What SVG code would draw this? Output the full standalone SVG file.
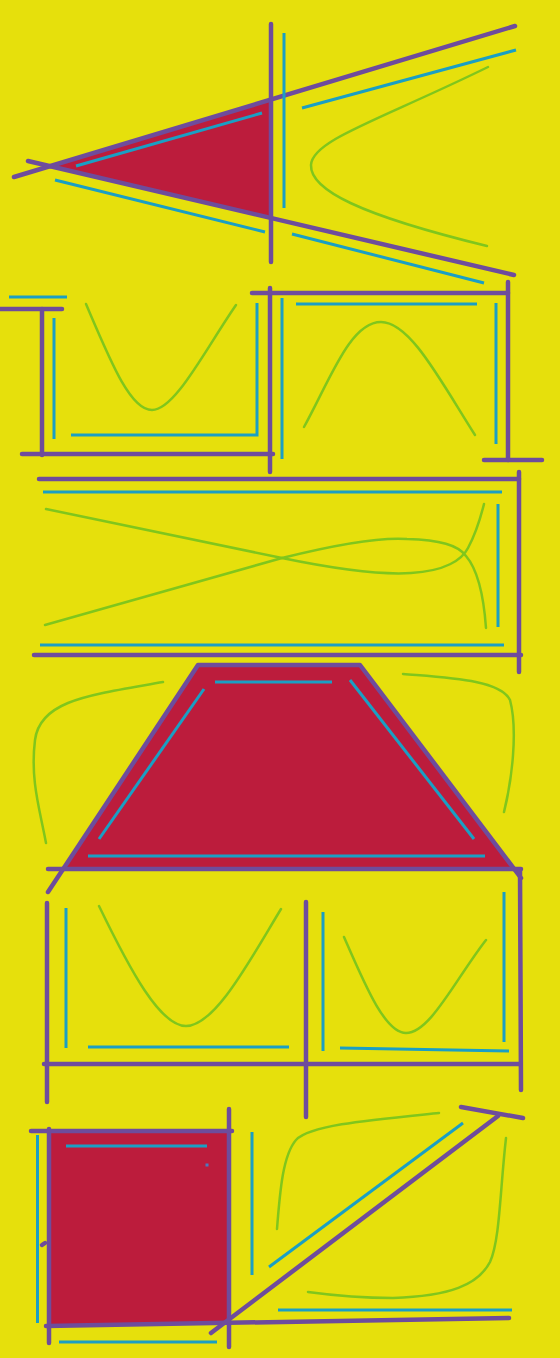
<svg xmlns="http://www.w3.org/2000/svg" width="560" height="1358" viewBox="0 0 560 1358">
<style>
.p{stroke:#6E4C9C;stroke-width:4.5;stroke-linecap:round;fill:none}
.c{stroke:#1A9FC4;stroke-width:3;stroke-linecap:butt;fill:none}
.g{stroke:#80C61C;stroke-width:2.5;stroke-linecap:round;fill:none}
.r{fill:#BC1C3C}
</style>
<rect width="560" height="1358" fill="#E6E00C"/>
<g id="triangle-section">
<polygon class="r" points="54,166 271,100 271,218"/>
<line class="p" x1="14" y1="177" x2="515" y2="26"/>
<line class="p" x1="28" y1="161" x2="514" y2="275"/>
<line class="p" x1="271" y1="24" x2="271" y2="262"/>
<line class="c" x1="284" y1="33" x2="284" y2="208"/>
<line class="c" x1="76" y1="166" x2="262" y2="113"/>
<line class="c" x1="55" y1="180" x2="265" y2="232"/>
<line class="c" x1="302" y1="108" x2="516" y2="50"/>
<line class="c" x1="292" y1="234" x2="484" y2="283"/>
<path class="g" d="M488,67 C380,120 312,140 311,165 C310,190 360,215 487,246"/>
</g>
<g id="two-boxes">
<line class="c" x1="9" y1="297" x2="67" y2="297"/>
<line class="p" x1="0" y1="309" x2="62" y2="309"/>
<line class="p" x1="42" y1="309" x2="42" y2="455"/>
<line class="p" x1="22" y1="454" x2="273" y2="454"/>
<line class="c" x1="54" y1="318" x2="54" y2="439"/>
<polyline class="c" points="71,435 257,435 257,303"/>
<path class="g" d="M86,304 C110,360 130,410 152,410 C175,410 205,350 236,305"/>
<line class="p" x1="270" y1="288" x2="270" y2="472"/>
<line class="p" x1="252" y1="293" x2="508" y2="293"/>
<line class="p" x1="508" y1="282" x2="508" y2="460"/>
<line class="p" x1="484" y1="460" x2="542" y2="460"/>
<line class="c" x1="282" y1="298" x2="282" y2="459"/>
<line class="c" x1="296" y1="304" x2="477" y2="304"/>
<line class="c" x1="496" y1="303" x2="496" y2="444"/>
<path class="g" d="M304,427 C330,380 350,322 381,322 C410,322 440,380 475,435"/>
</g>
<g id="wide-box">
<line class="p" x1="39" y1="479" x2="519" y2="479"/>
<line class="p" x1="519" y1="472" x2="519" y2="672"/>
<line class="c" x1="43" y1="492" x2="502" y2="492"/>
<line class="c" x1="40" y1="645" x2="504" y2="645"/>
<line class="p" x1="34" y1="655" x2="521" y2="655"/>
<line class="c" x1="498" y1="504" x2="498" y2="627"/>
<path class="g" d="M46,509 L282,558 C340,570 380,575 411,573 C445,571 462,560 468,548 C475,535 480,520 484,504"/>
<path class="g" d="M45,625 L282,558 C330,546 380,537 407,539 C440,540 458,545 466,556 C478,570 484,600 486,628"/>
</g>
<g id="trapezoid">
<polygon class="r" points="198,665 360,665 514,868 64,868"/>
<polyline class="p" points="48,892 198,665 360,665 521,878" stroke-linejoin="round"/>
<line class="p" x1="48" y1="869" x2="521" y2="869"/>
<line class="c" x1="215" y1="682" x2="332" y2="682"/>
<line class="c" x1="204" y1="689" x2="99" y2="839"/>
<line class="c" x1="350" y1="680" x2="474" y2="839"/>
<line class="c" x1="88" y1="856" x2="485" y2="856"/>
<path class="g" d="M163,682 C90,695 40,700 35,740 C30,780 40,810 46,843"/>
<path class="g" d="M403,674 C450,678 500,680 510,700 C518,730 512,780 504,812"/>
</g>
<g id="u-boxes">
<line class="p" x1="47" y1="903" x2="47" y2="1102"/>
<line class="p" x1="306" y1="902" x2="306" y2="1117"/>
<line class="p" x1="520" y1="870" x2="521" y2="1090"/>
<line class="p" x1="44" y1="1064" x2="520" y2="1064"/>
<line class="c" x1="66" y1="908" x2="66" y2="1048"/>
<line class="c" x1="88" y1="1047" x2="289" y2="1047"/>
<path class="g" d="M99,906 C130,970 160,1026 186,1026 C215,1026 250,960 281,909"/>
<line class="c" x1="323" y1="912" x2="323" y2="1051"/>
<line class="c" x1="340" y1="1048" x2="509" y2="1051"/>
<line class="c" x1="504" y1="892" x2="504" y2="1042"/>
<path class="g" d="M344,937 C365,985 385,1033 406,1033 C430,1033 455,980 486,940"/>
</g>
<g id="square-section">
<rect class="r" x="50" y="1131" width="179" height="193"/>
<line class="p" x1="31" y1="1131" x2="232" y2="1131"/>
<line class="p" x1="49" y1="1129" x2="49" y2="1343"/>
<line class="p" x1="229" y1="1109" x2="229" y2="1347"/>
<line class="p" x1="46" y1="1326" x2="509" y2="1318"/>
<line class="c" x1="37.5" y1="1135" x2="37.5" y2="1323"/>
<line class="c" x1="66" y1="1146" x2="207" y2="1146"/>
<rect x="205.5" y="1163.5" width="3" height="3" fill="#4A7ABF"/>
<line class="p" x1="42" y1="1245" x2="45" y2="1243"/>
<line class="c" x1="59" y1="1342" x2="217" y2="1342"/>
<line class="c" x1="252" y1="1132" x2="252" y2="1275"/>
<line class="p" x1="211" y1="1333" x2="498" y2="1116"/>
<line class="p" x1="461" y1="1107" x2="523" y2="1118"/>
<line class="c" x1="269" y1="1267" x2="463" y2="1123"/>
<path class="g" d="M439,1113 C370,1120 310,1125 296,1140 C283,1155 280,1190 277,1229"/>
<path class="g" d="M506,1138 C500,1190 500,1240 490,1262 C478,1285 450,1296 393,1298 C360,1298 330,1295 308,1292"/>
<line class="c" x1="278" y1="1310" x2="512" y2="1310"/>
</g>
</svg>
